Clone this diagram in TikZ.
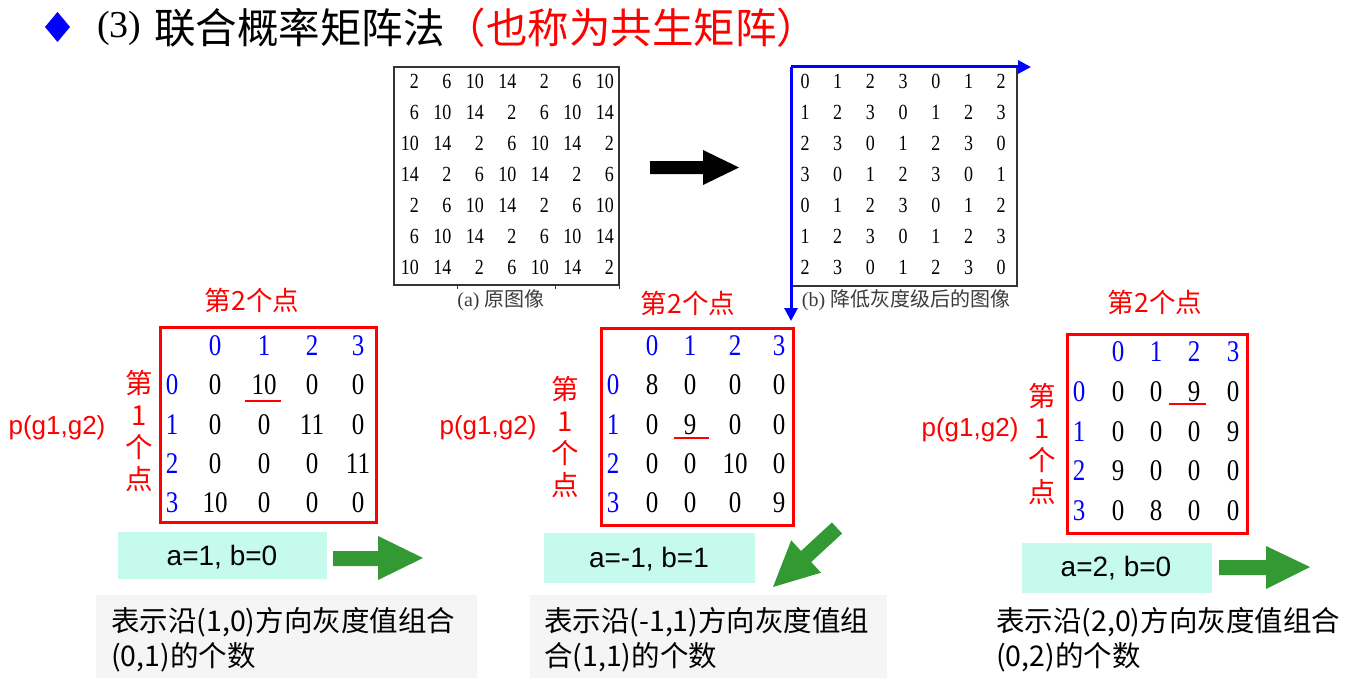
\documentclass[tikz,border=0pt]{standalone}
\usepackage{fontspec}
\usepackage{graphicx}
\setmainfont{Liberation Serif}
\newfontfamily\cjk{Noto Sans CJK SC}
\newfontfamily\sansf{Liberation Sans}
\usetikzlibrary{arrows.meta}
\definecolor{myred}{RGB}{255,0,0}
\definecolor{myblue}{RGB}{0,0,255}
\definecolor{mygreen}{RGB}{51,153,51}
\definecolor{mycyan}{RGB}{198,250,236}
\definecolor{mygray}{RGB}{245,245,245}
\definecolor{capgray}{RGB}{60,60,60}
\newcommand{\fsz}[2]{\fontsize{#1}{#2}\selectfont}
\newcommand{\tallnum}[1]{\scalebox{1}[1.2]{#1}}
\tikzset{
  topnum/.style={inner sep=0, anchor=east, font=\fsz{18}{20}},
  topnumc/.style={inner sep=0, font=\fsz{18}{20}},
  botnum/.style={inner sep=0, font=\fsz{25}{28}},
  blunum/.style={botnum, text=myblue},
  redlbl/.style={inner sep=0, text=myred, font=\cjk\fsz{26.5}{30}},
  vertlbl/.style={inner sep=0, text=myred, align=center, font=\cjk\fsz{27.5}{32}},
  plbl/.style={inner sep=0, text=myred, font=\sansf\fsz{26}{28}},
  redbox/.style={draw=myred, line width=3pt},
  redline/.style={draw=myred, line width=2.5pt},
  cyanbox/.style={fill=mycyan},
  graybox/.style={fill=mygray},
  abtext/.style={inner sep=0, font=\sansf\fsz{28}{30}},
  desc/.style={inner sep=0, anchor=base west, font=\cjk\fsz{28.5}{32}},
  caption/.style={inner sep=0, text=capgray, font=\fsz{20}{22}},
  greenarrow/.style={fill=mygreen},
  bluearrow/.style={draw=myblue, line width=3pt, -{Triangle[length=13pt,width=13pt]}},
  matframe/.style={draw=black!80, line width=1.5pt}
}
\newcommand{\cooc}[6]{%
  \foreach \cx [count=\ci from 0] in {#2} {\node[blunum] (#1-h\ci) at (\cx,#5) {\tallnum{\ci}};}
  \foreach \ry [count=\ri from 0] in {#3} {\node[blunum] (#1-l\ri) at (#4,\ry) {\tallnum{\ri}};}
  \foreach \row [count=\ri from 0] in {#6} {
    \pgfmathsetmacro{\yy}{{#3}[\ri]}
    \foreach \val [count=\ci from 0] in \row {
      \pgfmathsetmacro{\xx}{{#2}[\ci]}
      \node[botnum] (#1-\ri-\ci) at (\xx,\yy) {\tallnum{\val}};
    }
  }
}
\begin{document}
\begin{tikzpicture}[x=1pt,y=-1pt]
\fill[white] (0,0) rectangle (1367,682);
\useasboundingbox (0,0) rectangle (1367,682);

% title
\fill[myblue] (45,27) -- (57.5,12) -- (70,27) -- (57.5,42) -- cycle;
\node[anchor=base west, inner sep=0, font=\fsz{38}{40}] (num) at (97,38) {(3)};
\node[anchor=base west, inner sep=0, font=\cjk\fsz{41.5}{44}] (title) at (154,44) {联合概率矩阵法\textcolor{myred}{（也称为共生矩阵）}};

% matrix (a)
\draw[matframe] (394,67) rectangle (619,285);
\draw[black!80, line width=1pt] (457,285) -- (457,289) (555,285) -- (555,289) (619,285) -- (619,289);
\foreach \r in {1,...,7} {
  \foreach \c in {1,...,7} {
    \pgfmathtruncatemacro{\va}{2+4*mod(\r+\c-2,4)}
    \node[topnum] (a-\r-\c) at ({419+(\c-1)*32.5},{81+(\r-1)*31}) {\tallnum{\va}};
  }
}
\node[caption] (capa) at (501,300) {(a)\ {\cjk 原图像}};

% big black arrow
\fill[black] (650,161) -- (703,161) -- (703,150) -- (739,167.5) -- (703,185) -- (703,174) -- (650,174) -- cycle;

% matrix (b)
\draw[matframe] (1017,67) -- (1017,286) -- (791,286);
\coordinate (orig) at (791,67);
\coordinate (xend) at (1031,67);
\coordinate (yend) at (791,321);
\draw[bluearrow] (orig) -- (xend);
\draw[bluearrow] (orig) -- (yend);
\foreach \r in {1,...,7} {
  \foreach \c in {1,...,7} {
    \pgfmathtruncatemacro{\vb}{mod(\r+\c-2,4)}
    \node[topnumc] (b-\r-\c) at ({805+(\c-1)*32.7},{81+(\r-1)*31}) {\tallnum{\vb}};
  }
}
\node[caption] (capb) at (906,300) {(b)\ {\cjk 降低灰度级后的图像}};

% ---------- matrix 1
\node[redlbl] (m1top) at (252,300) {第2个点};
\draw[redbox] (160,327) rectangle (376,522);
\cooc{m1}{215,264,312,358}{385,425,464,503}{172}{346}{{0,10,0,0},{0,0,11,0},{0,0,0,11},{10,0,0,0}}
\draw[redline] (245,401) -- (281,401);
\node[vertlbl] (m1side) at (139,431) {第\\1\\个\\点};
\node[plbl] (m1p) at (57,428) {p(g1,g2)};
\fill[cyanbox] (118,532) rectangle (327,579);
\node[abtext] (m1ab) at (222,557) {a=1, b=0};
\fill[greenarrow] (333,551) -- (378,551) -- (378,536) -- (423,558) -- (378,580) -- (378,566) -- (333,566) -- cycle;
\fill[graybox] (96,595) rectangle (477,678);
\node[desc] (m1d1) at (111,631) {表示沿(1,0)方向灰度值组合};
\node[desc] (m1d2) at (111,666) {(0,1)的个数};

% ---------- matrix 2
\node[redlbl] (m2top) at (688,303) {第2个点};
\draw[redbox] (601,328) rectangle (793,525);
\cooc{m2}{652,690,735,779}{385,425,464,503}{613}{346}{{8,0,0,0},{0,9,0,0},{0,0,10,0},{0,0,0,9}}
\draw[redline] (674,438) -- (709,438);
\node[vertlbl] (m2side) at (565,437) {第\\1\\个\\点};
\node[plbl] (m2p) at (488,428) {p(g1,g2)};
\fill[cyanbox] (544,533) rectangle (755,583);
\node[abtext] (m2ab) at (649,559) {a=-1, b=1};
\fill[greenarrow] (842.1,533.5) -- (811.2,562.0) -- (821.0,572.7) -- (773,587) -- (791.2,540.3) -- (801.0,551.0) -- (831.9,522.5) -- cycle;
\fill[graybox] (530,595) rectangle (887,678);
\node[desc] (m2d1) at (544,631) {表示沿(-1,1)方向灰度值组};
\node[desc] (m2d2) at (544,666) {合(1,1)的个数};

% ---------- matrix 3
\node[redlbl] (m3top) at (1155,302) {第2个点};
\draw[redbox] (1067,334) rectangle (1247,533);
\cooc{m3}{1118,1156,1194,1233}{392,432,471,511}{1079}{352}{{0,0,9,0},{0,0,0,9},{9,0,0,0},{0,8,0,0}}
\draw[redline] (1169,404) -- (1206,404);
\node[vertlbl] (m3side) at (1042,444) {第\\1\\个\\点};
\node[plbl] (m3p) at (970,430) {p(g1,g2)};
\fill[cyanbox] (1022,543) rectangle (1212,593);
\node[abtext] (m3ab) at (1116,568) {a=2, b=0};
\fill[greenarrow] (1219,560) -- (1266,560) -- (1266,546) -- (1310,567) -- (1266,589) -- (1266,575) -- (1219,575) -- cycle;
\node[desc] (m3d1) at (996,631) {表示沿(2,0)方向灰度值组合};
\node[desc] (m3d2) at (996,666) {(0,2)的个数};
\end{tikzpicture}
\end{document}
